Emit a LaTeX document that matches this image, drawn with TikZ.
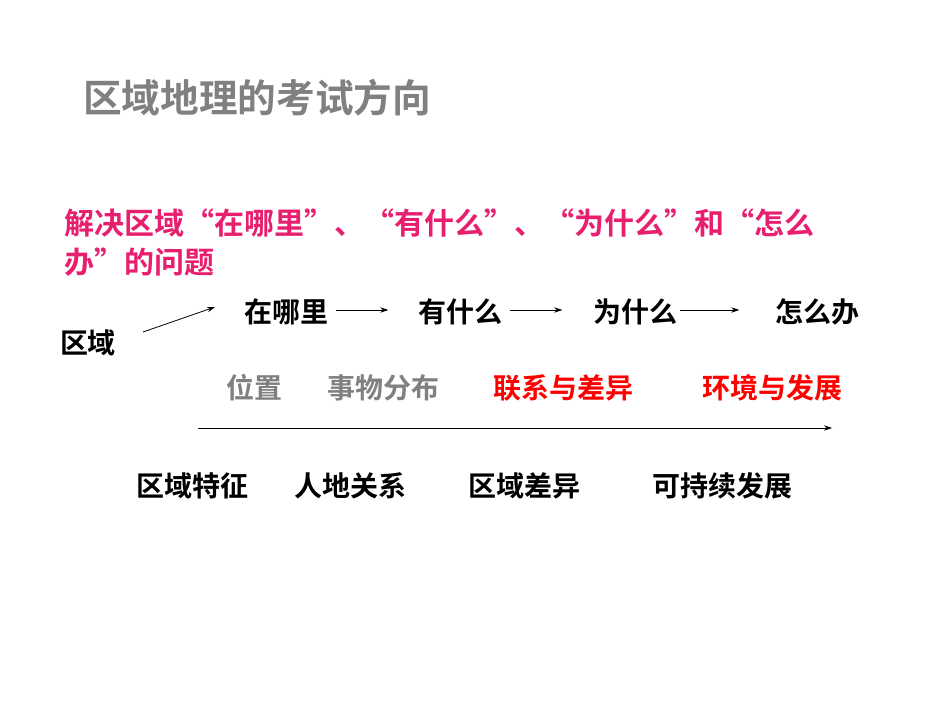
\documentclass[tikz,border=0pt]{standalone}
\usepackage{fontspec}
\setmainfont{Noto Sans CJK SC}[BoldFont={Noto Sans CJK SC Bold}]
\usetikzlibrary{arrows.meta}
\definecolor{pinkc}{RGB}{232,30,110}
\definecolor{grayc}{RGB}{128,128,128}
\begin{document}
\begin{tikzpicture}[x=0.75pt,y=-0.75pt,
  t/.style={font=\bfseries\fontsize{21}{25}\selectfont,inner sep=0pt},
  arr/.style={-{Stealth[length=6pt,width=4pt]},line width=0.6pt}]
\useasboundingbox (0,0) rectangle (950,713);
\node[font=\bfseries\fontsize{29}{34}\selectfont,text=grayc,anchor=west,inner sep=0pt] (title) at (83,98) {区域地理的考试方向};
\node[t,text=pinkc,anchor=west,font=\bfseries\fontsize{22.5}{27}\selectfont] (p1) at (64,223) {解决区域“在哪里”、“有什么”、“为什么”和“怎么};
\node[t,text=pinkc,anchor=west,font=\bfseries\fontsize{22.5}{27}\selectfont] (p2) at (64,262) {办”的问题};
\node[t] (a) at (286,312) {在哪里};
\node[t] (b) at (460,312) {有什么};
\node[t] (c) at (635,312) {为什么};
\node[t] (d) at (817,312) {怎么办};
\node[t] (q) at (88,343) {区域};
\coordinate (qs) at (143,332);
\coordinate (qe) at (215,307);
\draw[arr] (qs) -- (qe);
\draw[arr] (a.east)+(8,-2) coordinate (a1) -- ++(60,-2) coordinate (a2);
\draw[arr] (b.east)+(8,-2) -- ++(60,-2);
\draw[arr] (c.east)+(3,-2) -- ++(62,-2);
\node[t,text=grayc] (e) at (254,388) {位置};
\node[t,text=grayc] (f) at (383,388) {事物分布};
\node[t,text=red] (g) at (563,388) {联系与差异};
\node[t,text=red] (h) at (772,388) {环境与发展};
\coordinate (ls) at (198,428);
\coordinate (le) at (832,428);
\draw[arr] (ls) -- (le);
\node[t] (i) at (192,486) {区域特征};
\node[t] (j) at (350,486) {人地关系};
\node[t] (k) at (524,486) {区域差异};
\node[t] (l) at (722,486) {可持续发展};
\end{tikzpicture}
\end{document}
